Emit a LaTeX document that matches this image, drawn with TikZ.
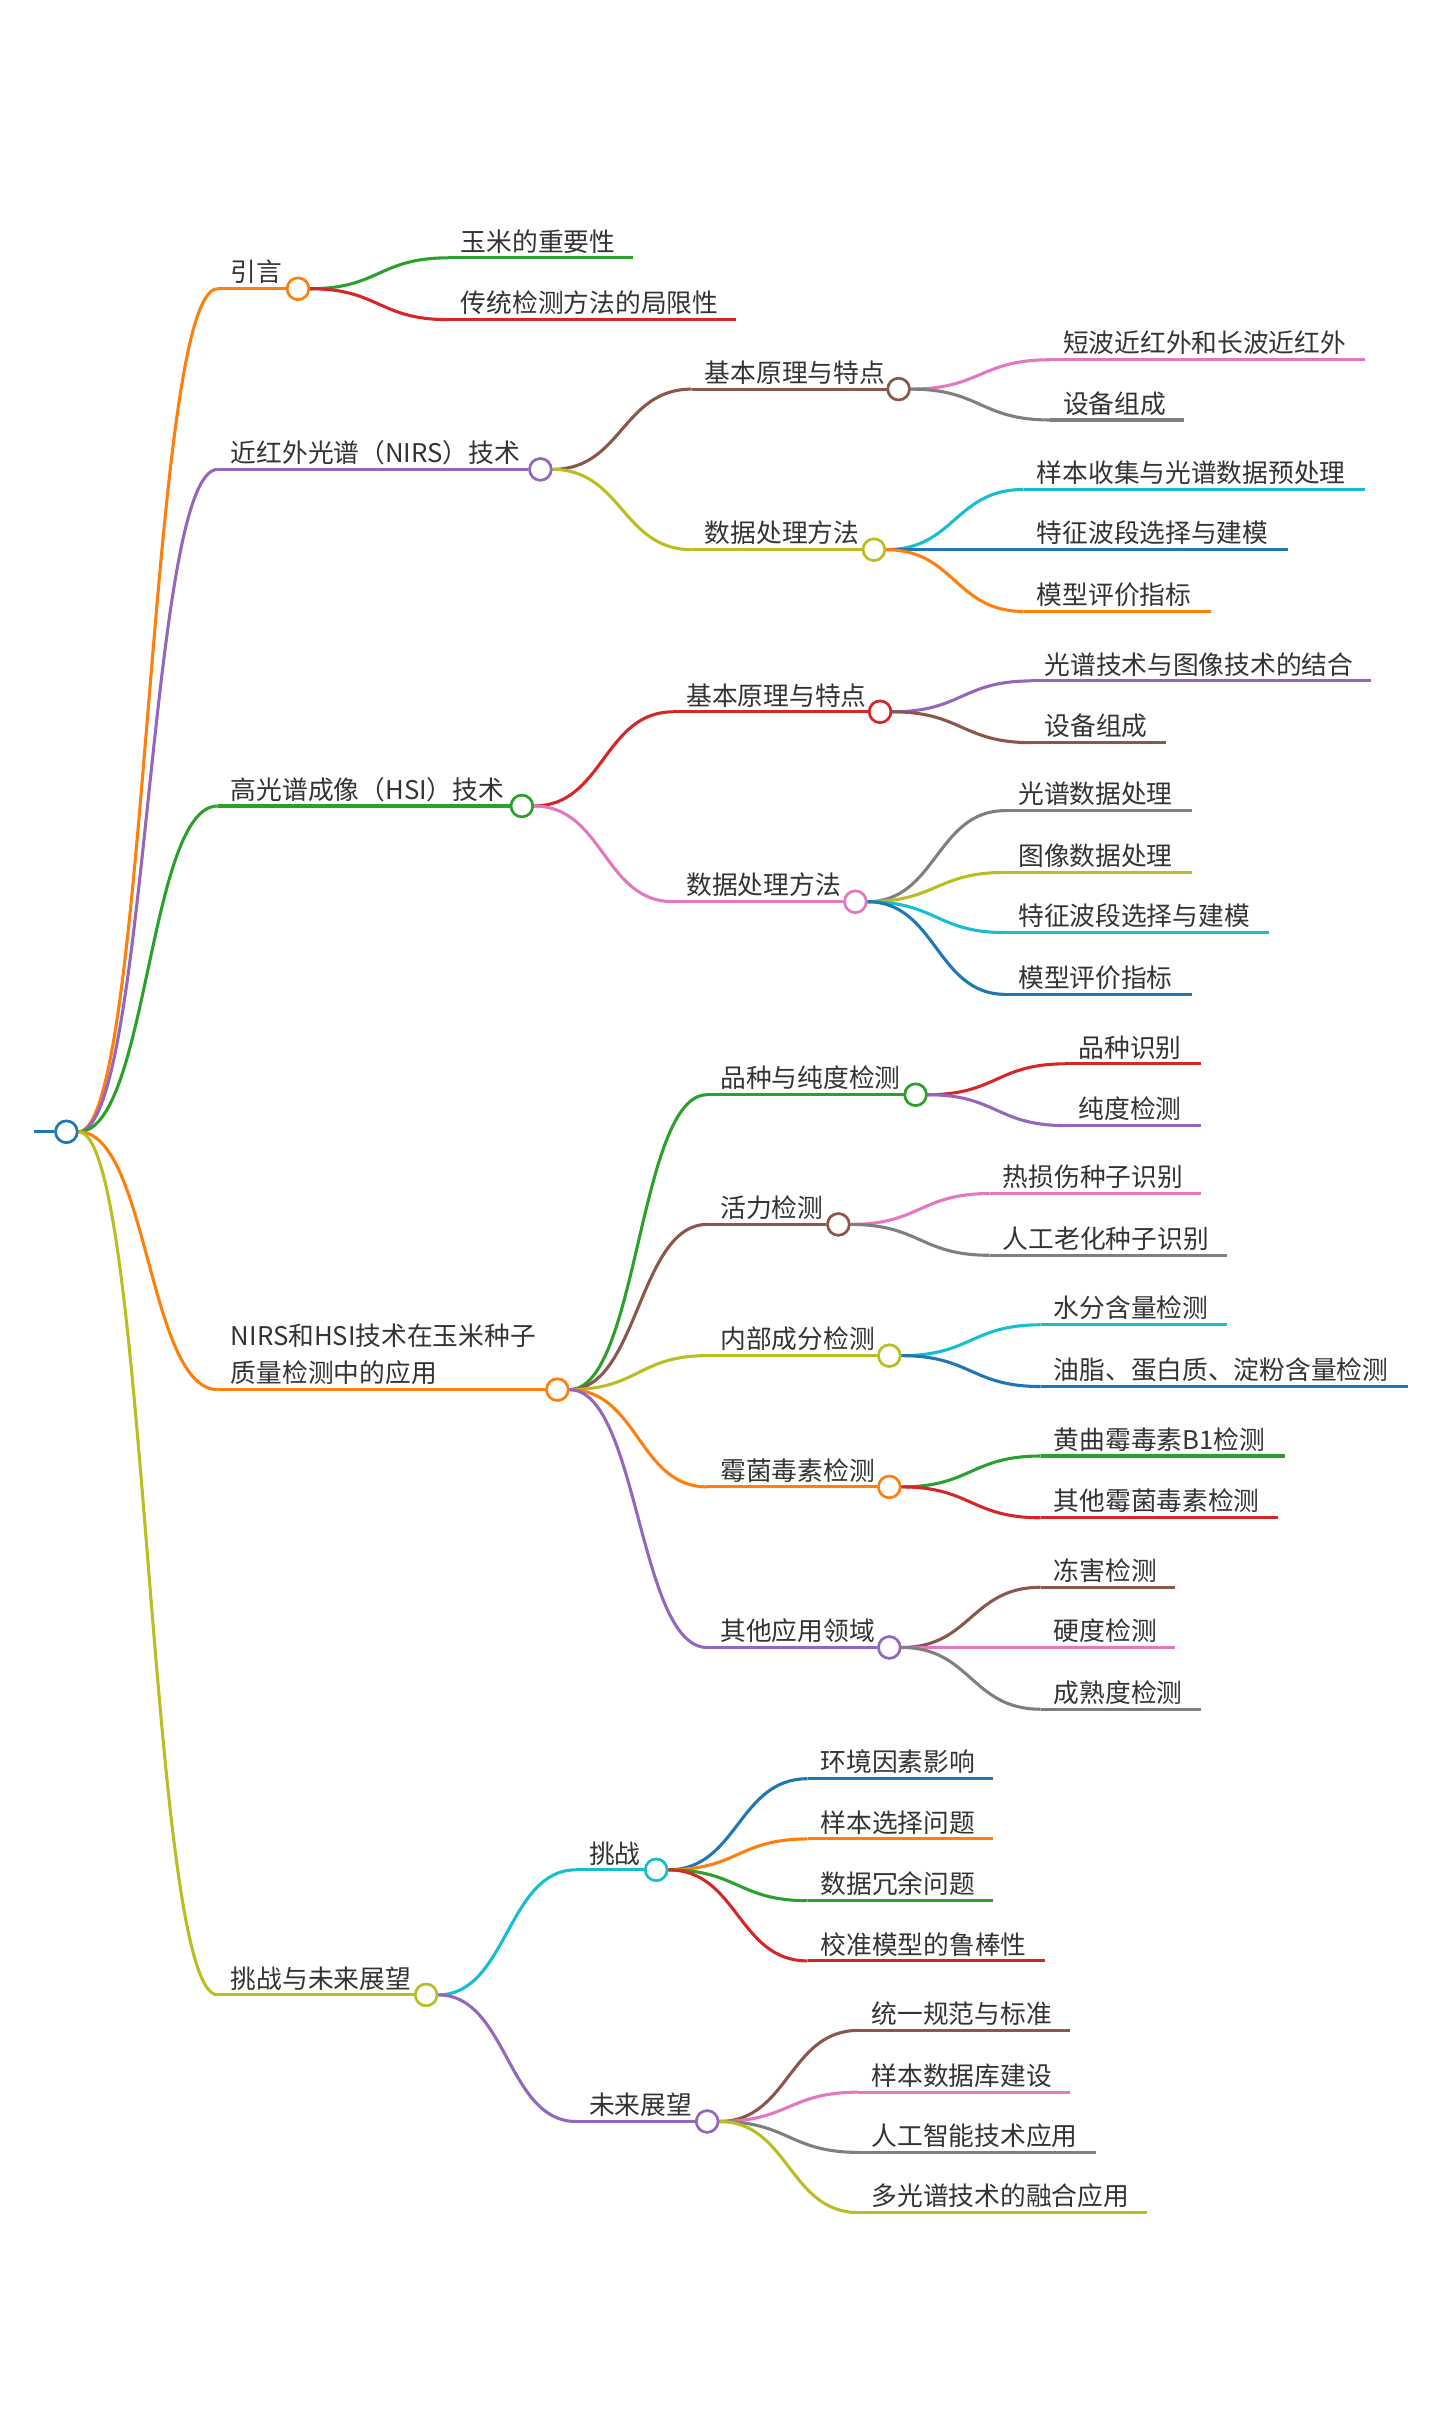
\documentclass[tikz,border=0pt]{standalone}
\usepackage{fontspec}
\setmainfont{Noto Sans CJK SC}
\usetikzlibrary{calc}
\definecolor{mmBlue}{HTML}{1F77B4}
\definecolor{mmOrange}{HTML}{FF7F0E}
\definecolor{mmGreen}{HTML}{2CA02C}
\definecolor{mmRed}{HTML}{D62728}
\definecolor{mmPurple}{HTML}{9467BD}
\definecolor{mmBrown}{HTML}{8C564B}
\definecolor{mmPink}{HTML}{E377C2}
\definecolor{mmGray}{HTML}{7F7F7F}
\definecolor{mmOlive}{HTML}{BCBD22}
\definecolor{mmCyan}{HTML}{17BECF}
\definecolor{mmInk}{HTML}{333333}
\begin{document}
\begin{tikzpicture}[
                x=0.75pt,y=-0.75pt,
                mmLine/.style={line width=1.5pt},
                mmRing/.style={circle,draw,fill=white,line width=1.25pt,
                               minimum size=10.5pt,inner sep=0pt},
                mmLabel/.style={anchor=base west,inner sep=0pt,xshift=6.2pt,yshift=3.3pt,
                                text=mmInk,font=\fontsize{12.5}{18}\selectfont},
                mmLink/.style={mmLine,to path={let \p1=(\tikztostart),\p2=(\tikztotarget) in
                               .. controls ({(\x1+\x2)/2},\y1) and ({(\x1+\x2)/2},\y2) .. (\tikztotarget)}}]
                \useasboundingbox (0,0) rectangle (933,1568);

                % Root: the map starts from one ring on the left.
                \coordinate (rootIn) at (22,733);
                \node[mmRing,draw=mmBlue] (root) at (43,733) {};
                \draw[mmLine,mmBlue] (rootIn)--(root.west);


                % Introduction branch.
                \coordinate (introS) at (141,187);
                \coordinate (maizeS) at (290,167);
                \coordinate (maizeE) at (410,167);
                \coordinate (limitS) at (290,207);
                \coordinate (limitE) at (477,207);
                \node[mmRing,draw=mmOrange] (intro) at (193,187) {};
                \draw[mmLink,mmOrange] (root.east) to (introS);
                \draw[mmLine,mmOrange] (introS)--(intro.west);
                \draw[mmLink,mmGreen] (intro.east) to (maizeS);
                \draw[mmLine,mmGreen] (maizeS)--(maizeE);
                \draw[mmLink,mmRed] (intro.east) to (limitS);
                \draw[mmLine,mmRed] (limitS)--(limitE);
                \node[mmRing,draw=mmOrange] at (intro) {};
                \node[mmLabel] (introT) at (introS) {引言};
                \node[mmLabel] (maizeT) at (maizeS) {玉米的重要性};
                \node[mmLabel] (limitT) at (limitS) {传统检测方法的局限性};


                % NIRS branch: principle and data processing.
                \coordinate (nirS) at (141,304);
                \coordinate (nirBaseS) at (448,252);
                \coordinate (nirDataS) at (448,356);
                \coordinate (waveS) at (680,233);
                \coordinate (waveE) at (884,233);
                \coordinate (nirDevS) at (680,272);
                \coordinate (nirDevE) at (767,272);
                \coordinate (sampleS) at (663,317);
                \coordinate (sampleE) at (884,317);
                \coordinate (nirBandS) at (663,356);
                \coordinate (nirBandE) at (834,356);
                \coordinate (nirEvalS) at (663,396);
                \coordinate (nirEvalE) at (784,396);
                \node[mmRing,draw=mmPurple] (nir) at (350,304) {};
                \node[mmRing,draw=mmBrown] (nirBase) at (582,252) {};
                \node[mmRing,draw=mmOlive] (nirData) at (566,356) {};
                \draw[mmLink,mmPurple] (root.east) to (nirS);
                \draw[mmLine,mmPurple] (nirS)--(nir.west);
                \draw[mmLink,mmBrown] (nir.east) to (nirBaseS);
                \draw[mmLine,mmBrown] (nirBaseS)--(nirBase.west);
                \draw[mmLink,mmOlive] (nir.east) to (nirDataS);
                \draw[mmLine,mmOlive] (nirDataS)--(nirData.west);
                \draw[mmLink,mmPink] (nirBase.east) to (waveS);
                \draw[mmLine,mmPink] (waveS)--(waveE);
                \draw[mmLink,mmGray] (nirBase.east) to (nirDevS);
                \draw[mmLine,mmGray] (nirDevS)--(nirDevE);
                \draw[mmLink,mmCyan] (nirData.east) to (sampleS);
                \draw[mmLine,mmCyan] (sampleS)--(sampleE);
                \draw[mmLink,mmBlue] (nirData.east) to (nirBandS);
                \draw[mmLine,mmBlue] (nirBandS)--(nirBandE);
                \draw[mmLink,mmOrange] (nirData.east) to (nirEvalS);
                \draw[mmLine,mmOrange] (nirEvalS)--(nirEvalE);
                \node[mmRing,draw=mmPurple] at (nir) {};
                \node[mmRing,draw=mmBrown] at (nirBase) {};
                \node[mmRing,draw=mmOlive] at (nirData) {};
                \node[mmLabel] (nirT) at (nirS) {近红外光谱（NIRS）技术};
                \node[mmLabel] (nirBaseT) at (nirBaseS) {基本原理与特点};
                \node[mmLabel] (nirDataT) at (nirDataS) {数据处理方法};
                \node[mmLabel] (waveT) at (waveS) {短波近红外和长波近红外};
                \node[mmLabel] (nirDevT) at (nirDevS) {设备组成};
                \node[mmLabel] (sampleT) at (sampleS) {样本收集与光谱数据预处理};
                \node[mmLabel] (nirBandT) at (nirBandS) {特征波段选择与建模};
                \node[mmLabel] (nirEvalT) at (nirEvalS) {模型评价指标};


                % HSI branch: principle and data processing.
                \coordinate (hsiS) at (141,522);
                \coordinate (hsiBaseS) at (436,461);
                \coordinate (hsiDataS) at (436,584);
                \coordinate (fuseS) at (668,441);
                \coordinate (fuseE) at (888,441);
                \coordinate (hsiDevS) at (668,481);
                \coordinate (hsiDevE) at (755,481);
                \coordinate (specS) at (651,525);
                \coordinate (specE) at (772,525);
                \coordinate (imgS) at (651,565);
                \coordinate (imgE) at (772,565);
                \coordinate (hsiBandS) at (651,604);
                \coordinate (hsiBandE) at (822,604);
                \coordinate (hsiEvalS) at (651,644);
                \coordinate (hsiEvalE) at (772,644);
                \node[mmRing,draw=mmGreen] (hsi) at (338,522) {};
                \node[mmRing,draw=mmRed] (hsiBase) at (570,461) {};
                \node[mmRing,draw=mmPink] (hsiData) at (554,584) {};
                \draw[mmLink,mmGreen] (root.east) to (hsiS);
                \draw[mmLine,mmGreen] (hsiS)--(hsi.west);
                \draw[mmLink,mmRed] (hsi.east) to (hsiBaseS);
                \draw[mmLine,mmRed] (hsiBaseS)--(hsiBase.west);
                \draw[mmLink,mmPink] (hsi.east) to (hsiDataS);
                \draw[mmLine,mmPink] (hsiDataS)--(hsiData.west);
                \draw[mmLink,mmPurple] (hsiBase.east) to (fuseS);
                \draw[mmLine,mmPurple] (fuseS)--(fuseE);
                \draw[mmLink,mmBrown] (hsiBase.east) to (hsiDevS);
                \draw[mmLine,mmBrown] (hsiDevS)--(hsiDevE);
                \draw[mmLink,mmGray] (hsiData.east) to (specS);
                \draw[mmLine,mmGray] (specS)--(specE);
                \draw[mmLink,mmOlive] (hsiData.east) to (imgS);
                \draw[mmLine,mmOlive] (imgS)--(imgE);
                \draw[mmLink,mmCyan] (hsiData.east) to (hsiBandS);
                \draw[mmLine,mmCyan] (hsiBandS)--(hsiBandE);
                \draw[mmLink,mmBlue] (hsiData.east) to (hsiEvalS);
                \draw[mmLine,mmBlue] (hsiEvalS)--(hsiEvalE);
                \node[mmRing,draw=mmGreen] at (hsi) {};
                \node[mmRing,draw=mmRed] at (hsiBase) {};
                \node[mmRing,draw=mmPink] at (hsiData) {};
                \node[mmLabel] (hsiT) at (hsiS) {高光谱成像（HSI）技术};
                \node[mmLabel] (hsiBaseT) at (hsiBaseS) {基本原理与特点};
                \node[mmLabel] (hsiDataT) at (hsiDataS) {数据处理方法};
                \node[mmLabel] (fuseT) at (fuseS) {光谱技术与图像技术的结合};
                \node[mmLabel] (hsiDevT) at (hsiDevS) {设备组成};
                \node[mmLabel] (specT) at (specS) {光谱数据处理};
                \node[mmLabel] (imgT) at (imgS) {图像数据处理};
                \node[mmLabel] (hsiBandT) at (hsiBandS) {特征波段选择与建模};
                \node[mmLabel] (hsiEvalT) at (hsiEvalS) {模型评价指标};


                % Application branch: five kinds of seed quality detection.
                \coordinate (appS) at (141,900);
                \coordinate (pureS) at (458,709);
                \coordinate (vigS) at (458,793);
                \coordinate (compS) at (458,878);
                \coordinate (toxS) at (458,963);
                \coordinate (otherS) at (458,1067);
                \coordinate (varS) at (690,689);
                \coordinate (varE) at (778,689);
                \coordinate (purS) at (690,729);
                \coordinate (purE) at (778,729);
                \coordinate (heatS) at (641,773);
                \coordinate (heatE) at (778,773);
                \coordinate (ageS) at (641,813);
                \coordinate (ageE) at (795,813);
                \coordinate (waterS) at (674,858);
                \coordinate (waterE) at (795,858);
                \coordinate (oilS) at (674,898);
                \coordinate (oilE) at (912,898);
                \coordinate (aflaS) at (674,943);
                \coordinate (aflaE) at (832,943);
                \coordinate (mouldS) at (674,983);
                \coordinate (mouldE) at (828,983);
                \coordinate (frostS) at (674,1028);
                \coordinate (frostE) at (761,1028);
                \coordinate (hardS) at (674,1067);
                \coordinate (hardE) at (761,1067);
                \coordinate (ripeS) at (674,1107);
                \coordinate (ripeE) at (778,1107);
                \node[mmRing,draw=mmOrange] (app) at (361,900) {};
                \node[mmRing,draw=mmGreen] (pure) at (593,709) {};
                \node[mmRing,draw=mmBrown] (vig) at (543,793) {};
                \node[mmRing,draw=mmOlive] (comp) at (576,878) {};
                \node[mmRing,draw=mmOrange] (tox) at (576,963) {};
                \node[mmRing,draw=mmPurple] (other) at (576,1067) {};
                \draw[mmLink,mmOrange] (root.east) to (appS);
                \draw[mmLine,mmOrange] (appS)--(app.west);
                \draw[mmLink,mmGreen] (app.east) to (pureS);
                \draw[mmLine,mmGreen] (pureS)--(pure.west);
                \draw[mmLink,mmBrown] (app.east) to (vigS);
                \draw[mmLine,mmBrown] (vigS)--(vig.west);
                \draw[mmLink,mmOlive] (app.east) to (compS);
                \draw[mmLine,mmOlive] (compS)--(comp.west);
                \draw[mmLink,mmOrange] (app.east) to (toxS);
                \draw[mmLine,mmOrange] (toxS)--(tox.west);
                \draw[mmLink,mmPurple] (app.east) to (otherS);
                \draw[mmLine,mmPurple] (otherS)--(other.west);
                \draw[mmLink,mmRed] (pure.east) to (varS);
                \draw[mmLine,mmRed] (varS)--(varE);
                \draw[mmLink,mmPurple] (pure.east) to (purS);
                \draw[mmLine,mmPurple] (purS)--(purE);
                \draw[mmLink,mmPink] (vig.east) to (heatS);
                \draw[mmLine,mmPink] (heatS)--(heatE);
                \draw[mmLink,mmGray] (vig.east) to (ageS);
                \draw[mmLine,mmGray] (ageS)--(ageE);
                \draw[mmLink,mmCyan] (comp.east) to (waterS);
                \draw[mmLine,mmCyan] (waterS)--(waterE);
                \draw[mmLink,mmBlue] (comp.east) to (oilS);
                \draw[mmLine,mmBlue] (oilS)--(oilE);
                \draw[mmLink,mmGreen] (tox.east) to (aflaS);
                \draw[mmLine,mmGreen] (aflaS)--(aflaE);
                \draw[mmLink,mmRed] (tox.east) to (mouldS);
                \draw[mmLine,mmRed] (mouldS)--(mouldE);
                \draw[mmLink,mmBrown] (other.east) to (frostS);
                \draw[mmLine,mmBrown] (frostS)--(frostE);
                \draw[mmLink,mmPink] (other.east) to (hardS);
                \draw[mmLine,mmPink] (hardS)--(hardE);
                \draw[mmLink,mmGray] (other.east) to (ripeS);
                \draw[mmLine,mmGray] (ripeS)--(ripeE);
                \node[mmRing,draw=mmOrange] at (app) {};
                \node[mmRing,draw=mmGreen] at (pure) {};
                \node[mmRing,draw=mmBrown] at (vig) {};
                \node[mmRing,draw=mmOlive] at (comp) {};
                \node[mmRing,draw=mmOrange] at (tox) {};
                \node[mmRing,draw=mmPurple] at (other) {};
                \node[mmLabel,align=left] (appT) at (appS) {NIRS和HSI技术在玉米种子\\质量检测中的应用};
                \node[mmLabel] (pureT) at (pureS) {品种与纯度检测};
                \node[mmLabel] (vigT) at (vigS) {活力检测};
                \node[mmLabel] (compT) at (compS) {内部成分检测};
                \node[mmLabel] (toxT) at (toxS) {霉菌毒素检测};
                \node[mmLabel] (otherT) at (otherS) {其他应用领域};
                \node[mmLabel] (varT) at (varS) {品种识别};
                \node[mmLabel] (purT) at (purS) {纯度检测};
                \node[mmLabel] (heatT) at (heatS) {热损伤种子识别};
                \node[mmLabel] (ageT) at (ageS) {人工老化种子识别};
                \node[mmLabel] (waterT) at (waterS) {水分含量检测};
                \node[mmLabel] (oilT) at (oilS) {油脂、蛋白质、淀粉含量检测};
                \node[mmLabel] (aflaT) at (aflaS) {黄曲霉毒素B1检测};
                \node[mmLabel] (mouldT) at (mouldS) {其他霉菌毒素检测};
                \node[mmLabel] (frostT) at (frostS) {冻害检测};
                \node[mmLabel] (hardT) at (hardS) {硬度检测};
                \node[mmLabel] (ripeT) at (ripeS) {成熟度检测};


                % Outlook branch: challenges and future work.
                \coordinate (outS) at (141,1292);
                \coordinate (chalS) at (373,1211);
                \coordinate (futS) at (373,1374);
                \coordinate (envS) at (523,1152);
                \coordinate (envE) at (643,1152);
                \coordinate (selS) at (523,1191);
                \coordinate (selE) at (643,1191);
                \coordinate (redS) at (523,1231);
                \coordinate (redE) at (643,1231);
                \coordinate (robS) at (523,1270);
                \coordinate (robE) at (677,1270);
                \coordinate (normS) at (556,1315);
                \coordinate (normE) at (693,1315);
                \coordinate (dbS) at (556,1355);
                \coordinate (dbE) at (693,1355);
                \coordinate (aiS) at (556,1394);
                \coordinate (aiE) at (710,1394);
                \coordinate (multiS) at (556,1433);
                \coordinate (multiE) at (743,1433);
                \node[mmRing,draw=mmOlive] (out) at (276,1292) {};
                \node[mmRing,draw=mmCyan] (chal) at (425,1211) {};
                \node[mmRing,draw=mmPurple] (fut) at (458,1374) {};
                \draw[mmLink,mmOlive] (root.east) to (outS);
                \draw[mmLine,mmOlive] (outS)--(out.west);
                \draw[mmLink,mmCyan] (out.east) to (chalS);
                \draw[mmLine,mmCyan] (chalS)--(chal.west);
                \draw[mmLink,mmPurple] (out.east) to (futS);
                \draw[mmLine,mmPurple] (futS)--(fut.west);
                \draw[mmLink,mmBlue] (chal.east) to (envS);
                \draw[mmLine,mmBlue] (envS)--(envE);
                \draw[mmLink,mmOrange] (chal.east) to (selS);
                \draw[mmLine,mmOrange] (selS)--(selE);
                \draw[mmLink,mmGreen] (chal.east) to (redS);
                \draw[mmLine,mmGreen] (redS)--(redE);
                \draw[mmLink,mmRed] (chal.east) to (robS);
                \draw[mmLine,mmRed] (robS)--(robE);
                \draw[mmLink,mmBrown] (fut.east) to (normS);
                \draw[mmLine,mmBrown] (normS)--(normE);
                \draw[mmLink,mmPink] (fut.east) to (dbS);
                \draw[mmLine,mmPink] (dbS)--(dbE);
                \draw[mmLink,mmGray] (fut.east) to (aiS);
                \draw[mmLine,mmGray] (aiS)--(aiE);
                \draw[mmLink,mmOlive] (fut.east) to (multiS);
                \draw[mmLine,mmOlive] (multiS)--(multiE);
                \node[mmRing,draw=mmOlive] at (out) {};
                \node[mmRing,draw=mmCyan] at (chal) {};
                \node[mmRing,draw=mmPurple] at (fut) {};
                \node[mmRing,draw=mmBlue] at (root) {};
                \node[mmLabel] (outT) at (outS) {挑战与未来展望};
                \node[mmLabel] (chalT) at (chalS) {挑战};
                \node[mmLabel] (futT) at (futS) {未来展望};
                \node[mmLabel] (envT) at (envS) {环境因素影响};
                \node[mmLabel] (selT) at (selS) {样本选择问题};
                \node[mmLabel] (redT) at (redS) {数据冗余问题};
                \node[mmLabel] (robT) at (robS) {校准模型的鲁棒性};
                \node[mmLabel] (normT) at (normS) {统一规范与标准};
                \node[mmLabel] (dbT) at (dbS) {样本数据库建设};
                \node[mmLabel] (aiT) at (aiS) {人工智能技术应用};
                \node[mmLabel] (multiT) at (multiS) {多光谱技术的融合应用};

            \end{tikzpicture}
\end{document}
